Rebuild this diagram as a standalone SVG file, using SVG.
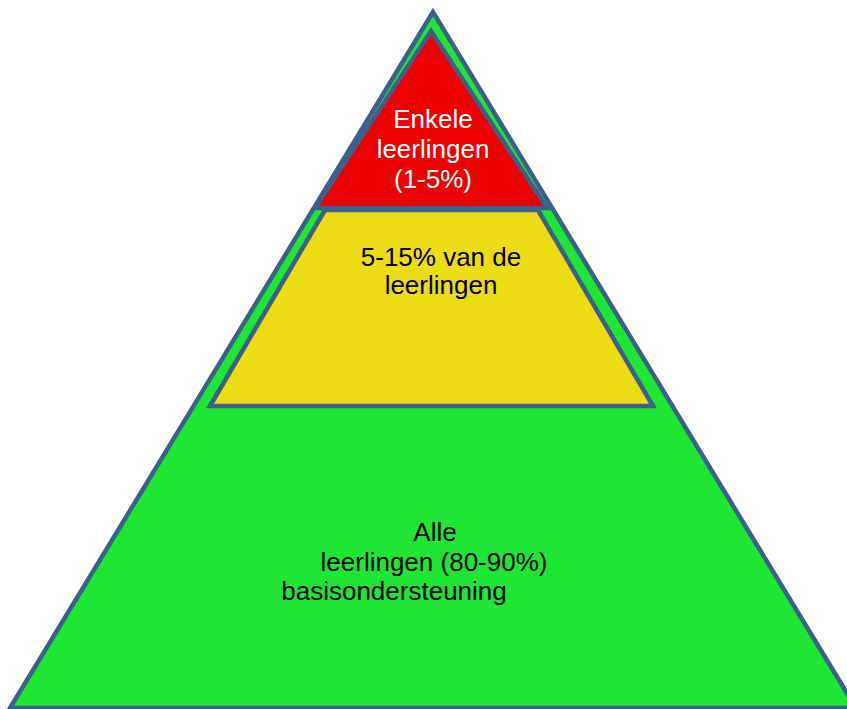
<svg xmlns="http://www.w3.org/2000/svg" width="847" height="709" viewBox="0 0 847 709">
<style>
.tier{stroke:#3c5f8b;stroke-width:4.5;stroke-linejoin:miter}
.t{font-family:"Liberation Sans",Arial,sans-serif;font-size:26px;text-anchor:middle}
</style>
<rect width="847" height="709" fill="#ffffff"/>
<g id="node-base">
<polygon class="tier" points="433,12 10,708 856,708" fill="#1ee632"/>
<text class="t" fill="#000000"><tspan x="435" y="541">Alle</tspan><tspan x="434" y="571">leerlingen (80-90%)</tspan><tspan x="394" y="600">basisondersteuning</tspan></text>
</g>
<g id="node-middle">
<polygon class="tier" points="325,210 538,210 653,406 210,406" fill="#ecdc14"/>
<text class="t" fill="#000000"><tspan x="441" y="266">5-15% van de</tspan><tspan x="441" y="294">leerlingen</tspan></text>
</g>
<g id="node-top">
<polygon class="tier" points="431,31 547,208 315,208" fill="#ee0000"/>
<text class="t" fill="#ffffff"><tspan x="433" y="128">Enkele</tspan><tspan x="433" y="158">leerlingen</tspan><tspan x="433" y="188">(1-5%)</tspan></text>
</g>
<g id="connectors"></g>
</svg>
